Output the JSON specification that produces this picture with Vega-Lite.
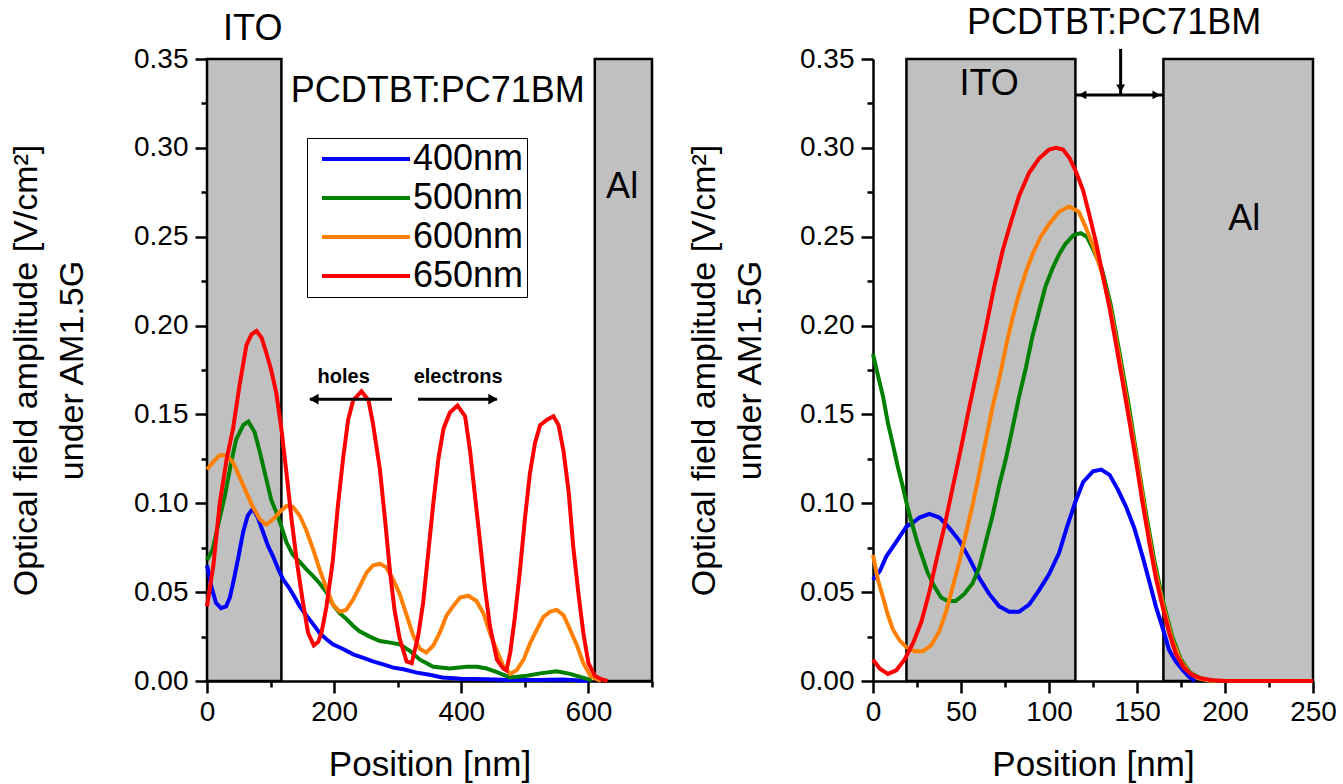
{
  "$schema": "https://vega.github.io/schema/vega-lite/v6.json",
  "background": "white",
  "padding": {"left": 9, "top": 4, "right": 5, "bottom": 2},
  "bounds": "flush",
  "spacing": 221,
  "config": {
    "view": {"stroke": null},
    "font": "Liberation Sans",
    "axis": {
      "domainColor": "black", "domainWidth": 2.5, "tickColor": "black", "tickWidth": 2.5,
      "labelColor": "black", "labelFont": "Liberation Sans", "labelFontSize": 28,
      "titleFont": "Liberation Sans", "titleFontSize": 34, "titleFontWeight": "normal", "titleColor": "black",
      "grid": false, "labelOverlap": false, "labelFlush": false
    },
    "line": {"strokeWidth": 4}
  },
  "datasets": {
    "bandsL": [
      {"layer": "ITO", "x": 0, "x2": 117, "y": 0, "y2": 0.35},
      {"layer": "Al", "x": 610, "x2": 700, "y": 0, "y2": 0.35}
    ],
    "bandsR": [
      {"layer": "ITO", "x": 19, "x2": 115, "y": 0, "y2": 0.35},
      {"layer": "Al", "x": 165, "x2": 250, "y": 0, "y2": 0.35}
    ],
    "left": [
      {"s":"400nm","x":0,"y":0.065},{"s":"400nm","x":7,"y":0.053},{"s":"400nm","x":14,"y":0.044},{"s":"400nm","x":22,"y":0.041},{"s":"400nm","x":30,"y":0.042},{"s":"400nm","x":36,"y":0.047},{"s":"400nm","x":41,"y":0.055},{"s":"400nm","x":49,"y":0.069},{"s":"400nm","x":57,"y":0.084},{"s":"400nm","x":64,"y":0.093},{"s":"400nm","x":72,"y":0.097},{"s":"400nm","x":80,"y":0.092},{"s":"400nm","x":88,"y":0.084},{"s":"400nm","x":96,"y":0.076},{"s":"400nm","x":104,"y":0.070},{"s":"400nm","x":112,"y":0.063},{"s":"400nm","x":120,"y":0.057},{"s":"400nm","x":128,"y":0.053},{"s":"400nm","x":135,"y":0.049},{"s":"400nm","x":146,"y":0.042},{"s":"400nm","x":156,"y":0.037},{"s":"400nm","x":167,"y":0.032},{"s":"400nm","x":177,"y":0.027},{"s":"400nm","x":188,"y":0.0235},{"s":"400nm","x":198,"y":0.0206},{"s":"400nm","x":214,"y":0.018},{"s":"400nm","x":230,"y":0.015},{"s":"400nm","x":246,"y":0.013},{"s":"400nm","x":261,"y":0.011},{"s":"400nm","x":277,"y":0.0094},{"s":"400nm","x":293,"y":0.0075},{"s":"400nm","x":309,"y":0.0066},{"s":"400nm","x":330,"y":0.0047},{"s":"400nm","x":350,"y":0.0035},{"s":"400nm","x":370,"y":0.002},{"s":"400nm","x":400,"y":0.0013},{"s":"400nm","x":440,"y":0.001},{"s":"400nm","x":480,"y":0.0005},{"s":"400nm","x":520,"y":0.0005},{"s":"400nm","x":560,"y":0.0008},{"s":"400nm","x":600,"y":0.0},
      {"s":"500nm","x":0,"y":0.068},{"s":"500nm","x":9,"y":0.074},{"s":"500nm","x":17,"y":0.087},{"s":"500nm","x":28,"y":0.104},{"s":"500nm","x":38,"y":0.123},{"s":"500nm","x":46,"y":0.136},{"s":"500nm","x":57,"y":0.144},{"s":"500nm","x":65,"y":0.146},{"s":"500nm","x":75,"y":0.140},{"s":"500nm","x":83,"y":0.129},{"s":"500nm","x":93,"y":0.114},{"s":"500nm","x":101,"y":0.102},{"s":"500nm","x":109,"y":0.095},{"s":"500nm","x":117,"y":0.087},{"s":"500nm","x":125,"y":0.078},{"s":"500nm","x":135,"y":0.071},{"s":"500nm","x":146,"y":0.067},{"s":"500nm","x":156,"y":0.063},{"s":"500nm","x":167,"y":0.059},{"s":"500nm","x":177,"y":0.055},{"s":"500nm","x":188,"y":0.050},{"s":"500nm","x":198,"y":0.043},{"s":"500nm","x":209,"y":0.038},{"s":"500nm","x":219,"y":0.035},{"s":"500nm","x":230,"y":0.031},{"s":"500nm","x":240,"y":0.028},{"s":"500nm","x":256,"y":0.025},{"s":"500nm","x":272,"y":0.0225},{"s":"500nm","x":288,"y":0.0216},{"s":"500nm","x":303,"y":0.0206},{"s":"500nm","x":319,"y":0.017},{"s":"500nm","x":335,"y":0.012},{"s":"500nm","x":356,"y":0.008},{"s":"500nm","x":382,"y":0.007},{"s":"500nm","x":408,"y":0.008},{"s":"500nm","x":425,"y":0.008},{"s":"500nm","x":440,"y":0.007},{"s":"500nm","x":456,"y":0.005},{"s":"500nm","x":477,"y":0.002},{"s":"500nm","x":503,"y":0.003},{"s":"500nm","x":524,"y":0.0043},{"s":"500nm","x":550,"y":0.0055},{"s":"500nm","x":571,"y":0.004},{"s":"500nm","x":590,"y":0.002},{"s":"500nm","x":605,"y":0.0005},
      {"s":"600nm","x":0,"y":0.119},{"s":"600nm","x":9,"y":0.123},{"s":"600nm","x":20,"y":0.127},{"s":"600nm","x":30,"y":0.127},{"s":"600nm","x":41,"y":0.123},{"s":"600nm","x":51,"y":0.115},{"s":"600nm","x":62,"y":0.106},{"s":"600nm","x":72,"y":0.098},{"s":"600nm","x":83,"y":0.091},{"s":"600nm","x":93,"y":0.088},{"s":"600nm","x":104,"y":0.091},{"s":"600nm","x":114,"y":0.095},{"s":"600nm","x":125,"y":0.0985},{"s":"600nm","x":135,"y":0.098},{"s":"600nm","x":146,"y":0.093},{"s":"600nm","x":156,"y":0.085},{"s":"600nm","x":167,"y":0.074},{"s":"600nm","x":177,"y":0.063},{"s":"600nm","x":188,"y":0.052},{"s":"600nm","x":198,"y":0.043},{"s":"600nm","x":209,"y":0.039},{"s":"600nm","x":219,"y":0.040},{"s":"600nm","x":230,"y":0.046},{"s":"600nm","x":240,"y":0.053},{"s":"600nm","x":251,"y":0.061},{"s":"600nm","x":261,"y":0.065},{"s":"600nm","x":272,"y":0.066},{"s":"600nm","x":282,"y":0.064},{"s":"600nm","x":293,"y":0.057},{"s":"600nm","x":303,"y":0.049},{"s":"600nm","x":314,"y":0.037},{"s":"600nm","x":324,"y":0.026},{"s":"600nm","x":335,"y":0.018},{"s":"600nm","x":345,"y":0.016},{"s":"600nm","x":356,"y":0.020},{"s":"600nm","x":366,"y":0.027},{"s":"600nm","x":377,"y":0.037},{"s":"600nm","x":387,"y":0.042},{"s":"600nm","x":398,"y":0.047},{"s":"600nm","x":411,"y":0.048},{"s":"600nm","x":424,"y":0.045},{"s":"600nm","x":435,"y":0.038},{"s":"600nm","x":445,"y":0.027},{"s":"600nm","x":456,"y":0.017},{"s":"600nm","x":466,"y":0.0085},{"s":"600nm","x":477,"y":0.004},{"s":"600nm","x":487,"y":0.006},{"s":"600nm","x":498,"y":0.012},{"s":"600nm","x":508,"y":0.021},{"s":"600nm","x":519,"y":0.029},{"s":"600nm","x":529,"y":0.036},{"s":"600nm","x":540,"y":0.039},{"s":"600nm","x":550,"y":0.040},{"s":"600nm","x":561,"y":0.037},{"s":"600nm","x":571,"y":0.029},{"s":"600nm","x":582,"y":0.020},{"s":"600nm","x":592,"y":0.010},{"s":"600nm","x":603,"y":0.003},{"s":"600nm","x":613,"y":0.001},{"s":"600nm","x":620,"y":0.0},
      {"s":"650nm","x":0,"y":0.042},{"s":"650nm","x":10,"y":0.065},{"s":"650nm","x":20,"y":0.100},{"s":"650nm","x":31,"y":0.125},{"s":"650nm","x":41,"y":0.142},{"s":"650nm","x":51,"y":0.166},{"s":"650nm","x":62,"y":0.189},{"s":"650nm","x":70,"y":0.195},{"s":"650nm","x":78,"y":0.197},{"s":"650nm","x":86,"y":0.193},{"s":"650nm","x":93,"y":0.185},{"s":"650nm","x":101,"y":0.175},{"s":"650nm","x":109,"y":0.162},{"s":"650nm","x":117,"y":0.142},{"s":"650nm","x":125,"y":0.117},{"s":"650nm","x":133,"y":0.091},{"s":"650nm","x":141,"y":0.068},{"s":"650nm","x":151,"y":0.044},{"s":"650nm","x":159,"y":0.027},{"s":"650nm","x":168,"y":0.020},{"s":"650nm","x":175,"y":0.022},{"s":"650nm","x":180,"y":0.027},{"s":"650nm","x":188,"y":0.042},{"s":"650nm","x":198,"y":0.068},{"s":"650nm","x":206,"y":0.099},{"s":"650nm","x":214,"y":0.125},{"s":"650nm","x":222,"y":0.147},{"s":"650nm","x":230,"y":0.158},{"s":"650nm","x":243,"y":0.163},{"s":"650nm","x":254,"y":0.158},{"s":"650nm","x":261,"y":0.145},{"s":"650nm","x":272,"y":0.119},{"s":"650nm","x":280,"y":0.091},{"s":"650nm","x":288,"y":0.061},{"s":"650nm","x":295,"y":0.040},{"s":"650nm","x":303,"y":0.024},{"s":"650nm","x":314,"y":0.011},{"s":"650nm","x":322,"y":0.010},{"s":"650nm","x":332,"y":0.025},{"s":"650nm","x":340,"y":0.044},{"s":"650nm","x":348,"y":0.072},{"s":"650nm","x":356,"y":0.100},{"s":"650nm","x":364,"y":0.125},{"s":"650nm","x":372,"y":0.142},{"s":"650nm","x":382,"y":0.151},{"s":"650nm","x":394,"y":0.155},{"s":"650nm","x":406,"y":0.149},{"s":"650nm","x":414,"y":0.129},{"s":"650nm","x":421,"y":0.106},{"s":"650nm","x":429,"y":0.080},{"s":"650nm","x":437,"y":0.053},{"s":"650nm","x":445,"y":0.031},{"s":"650nm","x":456,"y":0.012},{"s":"650nm","x":466,"y":0.007},{"s":"650nm","x":471,"y":0.006},{"s":"650nm","x":477,"y":0.016},{"s":"650nm","x":484,"y":0.035},{"s":"650nm","x":492,"y":0.061},{"s":"650nm","x":500,"y":0.091},{"s":"650nm","x":508,"y":0.117},{"s":"650nm","x":516,"y":0.134},{"s":"650nm","x":524,"y":0.144},{"s":"650nm","x":535,"y":0.147},{"s":"650nm","x":545,"y":0.149},{"s":"650nm","x":553,"y":0.144},{"s":"650nm","x":561,"y":0.129},{"s":"650nm","x":569,"y":0.106},{"s":"650nm","x":576,"y":0.076},{"s":"650nm","x":584,"y":0.050},{"s":"650nm","x":592,"y":0.027},{"s":"650nm","x":600,"y":0.010},{"s":"650nm","x":610,"y":0.003},{"s":"650nm","x":620,"y":0.001},{"s":"650nm","x":630,"y":0.0}
    ],
    "right": [
      {"s":"400nm","x":0,"y":0.057},{"s":"400nm","x":4,"y":0.062},{"s":"400nm","x":7.5,"y":0.070},{"s":"400nm","x":11,"y":0.075},{"s":"400nm","x":15,"y":0.081},{"s":"400nm","x":19,"y":0.087},{"s":"400nm","x":22.6,"y":0.089},{"s":"400nm","x":26.4,"y":0.092},{"s":"400nm","x":32,"y":0.094},{"s":"400nm","x":37.7,"y":0.092},{"s":"400nm","x":43.4,"y":0.086},{"s":"400nm","x":49,"y":0.079},{"s":"400nm","x":54.7,"y":0.069},{"s":"400nm","x":60.4,"y":0.058},{"s":"400nm","x":66,"y":0.049},{"s":"400nm","x":71.7,"y":0.042},{"s":"400nm","x":77.4,"y":0.039},{"s":"400nm","x":83,"y":0.039},{"s":"400nm","x":88.7,"y":0.043},{"s":"400nm","x":94.3,"y":0.051},{"s":"400nm","x":100,"y":0.060},{"s":"400nm","x":105.7,"y":0.072},{"s":"400nm","x":110,"y":0.086},{"s":"400nm","x":114.7,"y":0.100},{"s":"400nm","x":119.4,"y":0.112},{"s":"400nm","x":125,"y":0.118},{"s":"400nm","x":129.7,"y":0.119},{"s":"400nm","x":134.4,"y":0.116},{"s":"400nm","x":139,"y":0.108},{"s":"400nm","x":143.8,"y":0.098},{"s":"400nm","x":148.5,"y":0.086},{"s":"400nm","x":153.2,"y":0.070},{"s":"400nm","x":157,"y":0.056},{"s":"400nm","x":160.7,"y":0.042},{"s":"400nm","x":164.5,"y":0.030},{"s":"400nm","x":168.2,"y":0.0175},{"s":"400nm","x":172,"y":0.011},{"s":"400nm","x":175.8,"y":0.0064},{"s":"400nm","x":179.5,"y":0.0024},{"s":"400nm","x":183,"y":0.0},
      {"s":"500nm","x":0,"y":0.184},{"s":"500nm","x":2.8,"y":0.172},{"s":"500nm","x":5.7,"y":0.160},{"s":"500nm","x":8.5,"y":0.145},{"s":"500nm","x":11.3,"y":0.133},{"s":"500nm","x":14,"y":0.121},{"s":"500nm","x":17,"y":0.109},{"s":"500nm","x":19.8,"y":0.097},{"s":"500nm","x":22.6,"y":0.087},{"s":"500nm","x":25.5,"y":0.077},{"s":"500nm","x":28.3,"y":0.069},{"s":"500nm","x":31,"y":0.061},{"s":"500nm","x":35,"y":0.053},{"s":"500nm","x":38.7,"y":0.047},{"s":"500nm","x":42.5,"y":0.045},{"s":"500nm","x":47,"y":0.045},{"s":"500nm","x":51.9,"y":0.049},{"s":"500nm","x":56.6,"y":0.055},{"s":"500nm","x":60.4,"y":0.064},{"s":"500nm","x":64,"y":0.078},{"s":"500nm","x":67.9,"y":0.093},{"s":"500nm","x":71.7,"y":0.110},{"s":"500nm","x":75.5,"y":0.125},{"s":"500nm","x":79.2,"y":0.142},{"s":"500nm","x":83,"y":0.160},{"s":"500nm","x":86.8,"y":0.176},{"s":"500nm","x":90.6,"y":0.194},{"s":"500nm","x":94.3,"y":0.208},{"s":"500nm","x":98,"y":0.222},{"s":"500nm","x":101.9,"y":0.232},{"s":"500nm","x":105.7,"y":0.240},{"s":"500nm","x":109.4,"y":0.246},{"s":"500nm","x":114,"y":0.251},{"s":"500nm","x":118,"y":0.252},{"s":"500nm","x":121.5,"y":0.250},{"s":"500nm","x":125,"y":0.243},{"s":"500nm","x":130,"y":0.232},{"s":"500nm","x":135,"y":0.212},{"s":"500nm","x":140,"y":0.185},{"s":"500nm","x":145,"y":0.157},{"s":"500nm","x":150,"y":0.126},{"s":"500nm","x":155,"y":0.095},{"s":"500nm","x":160,"y":0.067},{"s":"500nm","x":165,"y":0.044},{"s":"500nm","x":170,"y":0.025},{"s":"500nm","x":175,"y":0.012},{"s":"500nm","x":180,"y":0.005},{"s":"500nm","x":185,"y":0.002},{"s":"500nm","x":190,"y":0.0005},{"s":"500nm","x":195,"y":0.0},
      {"s":"600nm","x":0,"y":0.071},{"s":"600nm","x":2.8,"y":0.057},{"s":"600nm","x":5.7,"y":0.047},{"s":"600nm","x":8.5,"y":0.037},{"s":"600nm","x":11.3,"y":0.029},{"s":"600nm","x":15,"y":0.023},{"s":"600nm","x":18.9,"y":0.019},{"s":"600nm","x":23.6,"y":0.0167},{"s":"600nm","x":28.3,"y":0.0167},{"s":"600nm","x":33,"y":0.020},{"s":"600nm","x":37.7,"y":0.028},{"s":"600nm","x":41.5,"y":0.039},{"s":"600nm","x":45.3,"y":0.053},{"s":"600nm","x":49,"y":0.067},{"s":"600nm","x":52.8,"y":0.083},{"s":"600nm","x":56.6,"y":0.099},{"s":"600nm","x":60.4,"y":0.117},{"s":"600nm","x":64,"y":0.135},{"s":"600nm","x":67.9,"y":0.154},{"s":"600nm","x":71.7,"y":0.170},{"s":"600nm","x":75.5,"y":0.188},{"s":"600nm","x":79.2,"y":0.204},{"s":"600nm","x":83,"y":0.218},{"s":"600nm","x":86.8,"y":0.230},{"s":"600nm","x":90.6,"y":0.240},{"s":"600nm","x":95.3,"y":0.250},{"s":"600nm","x":100,"y":0.257},{"s":"600nm","x":105.7,"y":0.264},{"s":"600nm","x":111.5,"y":0.267},{"s":"600nm","x":117,"y":0.264},{"s":"600nm","x":121,"y":0.255},{"s":"600nm","x":125,"y":0.245},{"s":"600nm","x":130,"y":0.230},{"s":"600nm","x":135,"y":0.209},{"s":"600nm","x":140,"y":0.182},{"s":"600nm","x":145,"y":0.153},{"s":"600nm","x":150,"y":0.124},{"s":"600nm","x":155,"y":0.092},{"s":"600nm","x":160,"y":0.064},{"s":"600nm","x":165,"y":0.042},{"s":"600nm","x":170,"y":0.023},{"s":"600nm","x":175,"y":0.011},{"s":"600nm","x":180,"y":0.0045},{"s":"600nm","x":185,"y":0.0015},{"s":"600nm","x":190,"y":0.0004},{"s":"600nm","x":195,"y":0.0},
      {"s":"650nm","x":0,"y":0.012},{"s":"650nm","x":3.8,"y":0.007},{"s":"650nm","x":8.5,"y":0.004},{"s":"650nm","x":13.2,"y":0.006},{"s":"650nm","x":17.9,"y":0.012},{"s":"650nm","x":22.6,"y":0.021},{"s":"650nm","x":27.4,"y":0.033},{"s":"650nm","x":32,"y":0.050},{"s":"650nm","x":35.8,"y":0.067},{"s":"650nm","x":40.6,"y":0.087},{"s":"650nm","x":45.3,"y":0.109},{"s":"650nm","x":50,"y":0.131},{"s":"650nm","x":54.7,"y":0.154},{"s":"650nm","x":59.4,"y":0.176},{"s":"650nm","x":64,"y":0.198},{"s":"650nm","x":68.9,"y":0.222},{"s":"650nm","x":73.6,"y":0.242},{"s":"650nm","x":78.3,"y":0.258},{"s":"650nm","x":83,"y":0.273},{"s":"650nm","x":88.7,"y":0.286},{"s":"650nm","x":94.3,"y":0.294},{"s":"650nm","x":100,"y":0.299},{"s":"650nm","x":104,"y":0.300},{"s":"650nm","x":108,"y":0.299},{"s":"650nm","x":111.8,"y":0.294},{"s":"650nm","x":115.6,"y":0.286},{"s":"650nm","x":119.4,"y":0.276},{"s":"650nm","x":123,"y":0.262},{"s":"650nm","x":126.9,"y":0.246},{"s":"650nm","x":130.6,"y":0.228},{"s":"650nm","x":134.4,"y":0.210},{"s":"650nm","x":138,"y":0.190},{"s":"650nm","x":141.9,"y":0.168},{"s":"650nm","x":145.7,"y":0.146},{"s":"650nm","x":149.4,"y":0.124},{"s":"650nm","x":153.2,"y":0.100},{"s":"650nm","x":157,"y":0.078},{"s":"650nm","x":160.7,"y":0.058},{"s":"650nm","x":164.5,"y":0.042},{"s":"650nm","x":168.2,"y":0.0275},{"s":"650nm","x":172,"y":0.0155},{"s":"650nm","x":176.7,"y":0.0074},{"s":"650nm","x":181.4,"y":0.0034},{"s":"650nm","x":187,"y":0.0014},{"s":"650nm","x":193,"y":0.0004},{"s":"650nm","x":200,"y":0.0},{"s":"650nm","x":250,"y":0.0}
    ],
    "textL": [
      {"t": "ITO", "x": 72, "y": 0.367},
      {"t": "PCDTBT:PC71BM", "x": 363, "y": 0.332},
      {"t": "Al", "x": 653, "y": 0.278}
    ],
    "smallL": [
      {"t": "holes", "x": 215, "y": 0.171},
      {"t": "electrons", "x": 395, "y": 0.171}
    ],
    "arrowsL": [
      {"x": 162, "x2": 291, "y": 0.1586},
      {"x": 332, "x2": 456, "y": 0.1586}
    ],
    "headLeftL": [{"x": 168, "y": 0.1586}],
    "headRightL": [{"x": 450, "y": 0.1586}],
    "textR": [
      {"t": "PCDTBT:PC71BM", "x": 137, "y": 0.3705},
      {"t": "ITO", "x": 66, "y": 0.336},
      {"t": "Al", "x": 211, "y": 0.26}
    ],
    "hArrowR": [{"x": 115, "x2": 165, "y": 0.3298}],
    "vArrowR": [{"x": 140.7, "y": 0.3557, "y2": 0.3298}],
    "headLeftR": [{"x": 119, "y": 0.3298}],
    "headRightR": [{"x": 161, "y": 0.3298}],
    "headDownR": [{"x": 140.7, "y": 0.3335}]
  },
  "resolve": {"scale": {"color": "independent"}, "legend": {"color": "independent"}},
  "hconcat": [
    {
      "width": 445,
      "height": 622,
      "encoding": {
        "x": {"field": "x", "type": "quantitative", "scale": {"domain": [0, 700], "nice": false},
          "axis": {"title": "Position [nm]", "values": [0,100,200,300,400,500,600,700],
            "labelExpr": "(datum.value % 200 == 0 && datum.value < 700) ? datum.label : ''",
            "tickSize": {"condition": {"test": "datum.value % 200 != 0", "value": 6}, "value": 12},
            "labelPadding": 5, "titlePadding": 21, "titleFontSize": 35}},
        "y": {"field": "y", "type": "quantitative", "scale": {"domain": [0, 0.35], "nice": false},
          "axis": {"title": ["Optical field amplitude [V/cm²]", "under AM1.5G"],
            "values": [0,0.025,0.05,0.075,0.1,0.125,0.15,0.175,0.2,0.225,0.25,0.275,0.3,0.325,0.35],
            "labelExpr": "round(datum.value*1000) % 50 == 0 ? format(datum.value, '.2f') : ''",
            "tickSize": {"condition": {"test": "round(datum.value*1000) % 50 != 0", "value": 6}, "value": 12},
            "labelPadding": 7, "titlePadding": 44, "titleLineHeight": 46}}
      },
      "layer": [
        {
          "data": {"name": "bandsL"},
          "mark": {"type": "rect", "fill": "#c0c0c0", "stroke": "black", "strokeWidth": 2.5},
          "encoding": {"x2": {"field": "x2"}, "y2": {"field": "y2"}}
        },
        {
          "data": {"name": "left"},
          "mark": {"type": "line", "strokeWidth": 4},
          "encoding": {
            "color": {"field": "s", "type": "nominal",
              "scale": {"domain": ["400nm", "500nm", "600nm", "650nm"], "range": ["#0000ff", "#008000", "#ff8000", "#ff0000"]},
              "legend": {"orient": "none", "legendX": 100, "legendY": 79, "title": null,
                "symbolType": "M-4,0H4", "symbolSize": 484, "symbolStrokeWidth": 5, "symbolOffset": 38,
                "labelOffset": 29, "labelFontSize": 36, "labelFont": "Liberation Sans", "labelColor": "black",
                "strokeColor": "black", "fillColor": "white", "padding": 3, "rowPadding": 3,
                "encode": {"legend": {"update": {"strokeWidth": {"value": 2.5}}}}}
            }
          }
        },
        {
          "data": {"name": "textL"},
          "mark": {"type": "text", "fontSize": 36, "font": "Liberation Sans", "color": "black", "align": "center", "baseline": "middle"},
          "encoding": {"text": {"field": "t"}}
        },
        {
          "data": {"name": "smallL"},
          "mark": {"type": "text", "fontSize": 20, "fontWeight": "bold", "font": "Liberation Sans", "color": "black", "align": "center", "baseline": "middle"},
          "encoding": {"text": {"field": "t"}}
        },
        {
          "data": {"name": "arrowsL"},
          "mark": {"type": "rule", "color": "black", "strokeWidth": 3},
          "encoding": {"x2": {"field": "x2"}}
        },
        {
          "data": {"name": "headLeftL"},
          "mark": {"type": "point", "shape": "triangle-left", "filled": true, "color": "black", "size": 120, "opacity": 1}
        },
        {
          "data": {"name": "headRightL"},
          "mark": {"type": "point", "shape": "triangle-right", "filled": true, "color": "black", "size": 120, "opacity": 1}
        }
      ]
    },
    {
      "width": 440,
      "height": 622,
      "encoding": {
        "x": {"field": "x", "type": "quantitative", "scale": {"domain": [0, 250], "nice": false},
          "axis": {"title": "Position [nm]", "values": [0,25,50,75,100,125,150,175,200,225,250],
            "labelExpr": "datum.value % 50 == 0 ? datum.label : ''",
            "tickSize": {"condition": {"test": "datum.value % 50 != 0", "value": 6}, "value": 12},
            "labelPadding": 5, "titlePadding": 21, "titleFontSize": 35}},
        "y": {"field": "y", "type": "quantitative", "scale": {"domain": [0, 0.35], "nice": false},
          "axis": {"title": ["Optical field amplitude [V/cm²]", "under AM1.5G"],
            "values": [0,0.025,0.05,0.075,0.1,0.125,0.15,0.175,0.2,0.225,0.25,0.275,0.3,0.325,0.35],
            "labelExpr": "round(datum.value*1000) % 50 == 0 ? format(datum.value, '.2f') : ''",
            "tickSize": {"condition": {"test": "round(datum.value*1000) % 50 != 0", "value": 6}, "value": 12},
            "labelPadding": 7, "titlePadding": 32, "titleLineHeight": 46}}
      },
      "layer": [
        {
          "data": {"name": "bandsR"},
          "mark": {"type": "rect", "fill": "#c0c0c0", "stroke": "black", "strokeWidth": 2.5},
          "encoding": {"x2": {"field": "x2"}, "y2": {"field": "y2"}}
        },
        {
          "data": {"name": "right"},
          "mark": {"type": "line", "strokeWidth": 4},
          "encoding": {
            "color": {"field": "s", "type": "nominal",
              "scale": {"domain": ["400nm", "500nm", "600nm", "650nm"], "range": ["#0000ff", "#008000", "#ff8000", "#ff0000"]},
              "legend": null}
          }
        },
        {
          "data": {"name": "textR"},
          "mark": {"type": "text", "fontSize": 36, "font": "Liberation Sans", "color": "black", "align": "center", "baseline": "middle"},
          "encoding": {"text": {"field": "t"}}
        },
        {
          "data": {"name": "hArrowR"},
          "mark": {"type": "rule", "color": "black", "strokeWidth": 3},
          "encoding": {"x2": {"field": "x2"}}
        },
        {
          "data": {"name": "vArrowR"},
          "mark": {"type": "rule", "color": "black", "strokeWidth": 3},
          "encoding": {"y2": {"field": "y2"}}
        },
        {
          "data": {"name": "headLeftR"},
          "mark": {"type": "point", "shape": "triangle-left", "filled": true, "color": "black", "size": 80, "opacity": 1}
        },
        {
          "data": {"name": "headRightR"},
          "mark": {"type": "point", "shape": "triangle-right", "filled": true, "color": "black", "size": 80, "opacity": 1}
        },
        {
          "data": {"name": "headDownR"},
          "mark": {"type": "point", "shape": "triangle-down", "filled": true, "color": "black", "size": 80, "opacity": 1}
        }
      ]
    }
  ]
}
